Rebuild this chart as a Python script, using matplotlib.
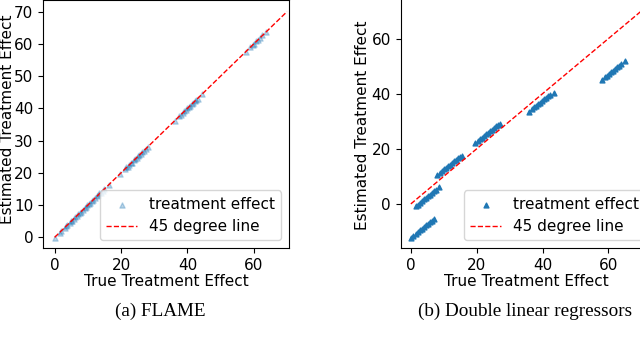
import matplotlib
matplotlib.use('Agg')
import matplotlib.pyplot as plt

# FLAME: true vs estimated treatment effect
flame_true = [0.0, 1.6, 2.0, 3.1, 3.4, 3.8, 4.6, 5.0, 5.3, 5.7, 6.2, 6.6, 7.1, 7.5, 8.0, 8.4,
              9.0, 9.4, 9.8, 10.3, 10.8, 11.3, 11.7, 12.2, 12.8, 13.1, 13.5, 14.0, 14.6,
              15.0, 16.4,
              19.8, 21.2, 21.6, 22.0, 22.4, 22.9, 23.3, 23.8, 24.2, 24.7, 25.1, 25.5,
              25.9, 26.3, 26.8, 27.4, 28.0,
              36.2, 37.5, 38.0, 38.6, 39.1, 39.6, 40.0, 40.4, 40.9, 41.3, 41.7, 42.2,
              42.6, 43.1, 44.4,
              57.6, 58.9, 59.6, 60.2, 60.7, 61.4, 62.0, 62.5, 63.8]
flame_est = [-0.2, 1.5, 2.1, 3.0, 3.5, 3.7, 4.5, 5.1, 5.2, 5.8, 6.3, 6.5, 7.2, 7.4, 7.9, 8.5,
             9.1, 9.3, 9.9, 10.2, 10.7, 11.4, 11.6, 12.3, 12.9, 13.0, 13.6, 13.9, 14.5,
             15.1, 16.3,
             19.7, 21.1, 21.7, 21.9, 22.3, 23.0, 23.2, 23.9, 24.3, 24.6, 25.2, 25.4,
             25.8, 26.4, 26.7, 27.3, 28.1,
             36.1, 37.6, 37.9, 38.7, 39.2, 39.5, 40.1, 40.3, 40.8, 41.4, 41.6, 42.3,
             42.7, 43.0, 44.3,
             57.5, 59.0, 59.5, 60.1, 60.8, 61.3, 61.9, 62.6, 63.7]

# Double linear regressors
dlr_true = [0.0, 0.8, 1.5, 2.2, 2.8, 3.4, 4.0, 4.6, 5.2, 5.8, 6.3, 7.0,
            1.6, 2.2, 2.9, 3.5, 4.1, 4.7, 5.3, 5.9, 6.5, 7.1, 7.7, 8.6,
            8.0, 8.8, 9.4, 10.0, 10.6, 11.2, 11.8, 12.4, 13.0, 13.6, 14.2, 14.8, 15.5,
            19.5, 20.3, 21.0, 21.6, 22.2, 22.8, 23.4, 24.0, 24.6, 25.2, 25.8, 26.4, 27.0,
            36.0, 36.8, 37.5, 38.1, 38.7, 39.3, 39.9, 40.5, 41.1, 41.7, 42.4, 43.5,
            58.0, 58.9, 59.6, 60.2, 60.8, 61.4, 62.0, 62.6, 63.2, 63.9, 65.0]
dlr_est = [-12.5, -11.6, -10.9, -10.2, -9.6, -9.0, -8.4, -7.8, -7.2, -6.6, -6.1, -5.4,
           -0.9, -0.3, 0.4, 1.0, 1.6, 2.2, 2.8, 3.4, 4.0, 4.6, 5.2, 6.0,
           10.6, 11.3, 11.9, 12.5, 13.1, 13.7, 14.3, 14.9, 15.5, 16.1, 16.7, 17.0, 17.5,
           22.0, 22.8, 23.4, 24.0, 24.6, 25.2, 25.8, 26.4, 27.0, 27.6, 28.2, 28.6, 29.0,
           33.5, 34.3, 35.0, 35.6, 36.2, 36.8, 37.4, 38.0, 38.6, 39.1, 39.6, 40.2,
           45.0, 45.9, 46.6, 47.2, 47.8, 48.4, 49.0, 49.6, 50.2, 50.9, 52.0]

diag = [0, 70]

plt.rcParams['font.size'] = 11
fig = plt.figure(figsize=(6.4, 3.52), dpi=100)

ax1 = fig.add_axes([0.0672, 0.2955, 0.3844, 0.7045])
ax1.scatter(flame_true, flame_est, marker='^', s=14, color='tab:blue', alpha=0.3,
            label='treatment effect')
ax1.plot(diag, diag, 'r--', linewidth=1, label='45 degree line')
ax1.set_xlim(-3.5, 70.6)
ax1.set_ylim(-3.3, 73.6)
ax1.set_xticks([0, 20, 40, 60])
ax1.set_yticks(range(0, 71, 10))
ax1.set_xlabel('True Treatment Effect', labelpad=1)
ax1.set_ylabel('Estimated Treatment Effect')
ax1.yaxis.set_label_coords(-0.115, 0.52)
ax1.legend(loc='lower right')

ax2 = fig.add_axes([0.626, 0.2955, 0.394, 0.72])
ax2.scatter(dlr_true, dlr_est, marker='^', s=12, color='tab:blue',
            label='treatment effect')
ax2.plot(diag, diag, 'r--', linewidth=1, label='45 degree line')
ax2.set_xlim(-3.1, 73.5)
ax2.set_ylim(-16, 76)
ax2.set_xticks([0, 20, 40, 60])
ax2.set_yticks([0, 20, 40, 60])
ax2.set_xlabel('True Treatment Effect', labelpad=1)
ax2.set_ylabel('Estimated Treatment Effect')
ax2.yaxis.set_label_coords(-0.12, 0.485)
ax2.legend(loc='lower right')

fig.text(0.25, 0.116, '(a) FLAME', ha='center', va='center',
         family='Liberation Serif', fontsize=13.8)
fig.text(0.82, 0.116, '(b) Double linear regressors', ha='center', va='center',
         family='Liberation Serif', fontsize=13.8)

plt.savefig('out.png')
plt.close()
